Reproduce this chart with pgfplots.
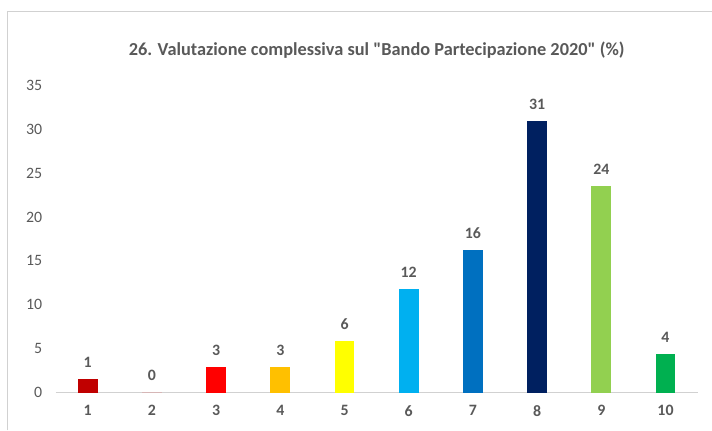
\documentclass[border=0pt]{standalone}
\usepackage{pgfplots}
\pgfplotsset{compat=1.18}
\usepackage{fontspec}
\setmainfont{Carlito}
\definecolor{txt}{HTML}{595959}
\definecolor{c1}{HTML}{C00000}
\definecolor{c3}{HTML}{FF0000}
\definecolor{c4}{HTML}{FFC000}
\definecolor{c5}{HTML}{FFFF00}
\definecolor{c6}{HTML}{00B0F0}
\definecolor{c7}{HTML}{0070C0}
\definecolor{c8}{HTML}{002060}
\definecolor{c9}{HTML}{92D050}
\definecolor{c10}{HTML}{00B050}
\begin{document}
\begin{tikzpicture}
\begin{axis}[
    scale only axis, width=646bp, height=309bp,
    xmin=0.5, xmax=10.5, ymin=0, ymax=35,
    axis lines*=left, axis y line=none,
    x axis line style={draw=black!18, line width=1pt},
    xtick={1,...,10}, xtick style={draw=none},
    /pgf/number format/assume math mode=true,
    xticklabel style={font=\fontsize{16}{19}\selectfont\bfseries, text=txt, yshift=-5bp},
    ytick={0,5,...,35},
    ybar, bar width=20bp, bar shift=0pt,
    nodes near coords={\pgfplotspointmeta},
    point meta=explicit symbolic,
    nodes near coords style={font=\fontsize{16}{19}\selectfont\bfseries, text=txt, yshift=8bp},
    clip=false,
    title={26. Valutazione complessiva sul \textquotedbl Bando Partecipazione 2020\textquotedbl{} (\%)},
    title style={font=\fontsize{18.5}{22}\selectfont\bfseries, text=txt, yshift=18bp},
]
\addplot[fill=c1, draw=none] coordinates {(1,1.5) [1]};
\addplot[fill=c3, draw=none] coordinates {(2,0) [0]};
\addplot[fill=c3, draw=none] coordinates {(3,2.9) [3]};
\addplot[fill=c4, draw=none] coordinates {(4,2.9) [3]};
\addplot[fill=c5, draw=none] coordinates {(5,5.9) [6]};
\addplot[fill=c6, draw=none] coordinates {(6,11.8) [12]};
\addplot[fill=c7, draw=none] coordinates {(7,16.2) [16]};
\addplot[fill=c8, draw=none] coordinates {(8,30.9) [31]};
\addplot[fill=c9, draw=none] coordinates {(9,23.5) [24]};
\addplot[fill=c10, draw=none] coordinates {(10,4.4) [4]};
\pgfplotsinvokeforeach{0,5,...,35}{
  \node[anchor=east, font=\fontsize{16}{19}\selectfont, text=txt] at (axis cs:0.5,#1) [xshift=-10bp] {#1};
}
\end{axis}
\draw[black!18, line width=1pt] (-48bp,-38bp) -- (-48bp,383bp) -- (660bp,383bp);
\useasboundingbox (-56bp,-37bp) rectangle (656bp,395bp);
\end{tikzpicture}
\end{document}
